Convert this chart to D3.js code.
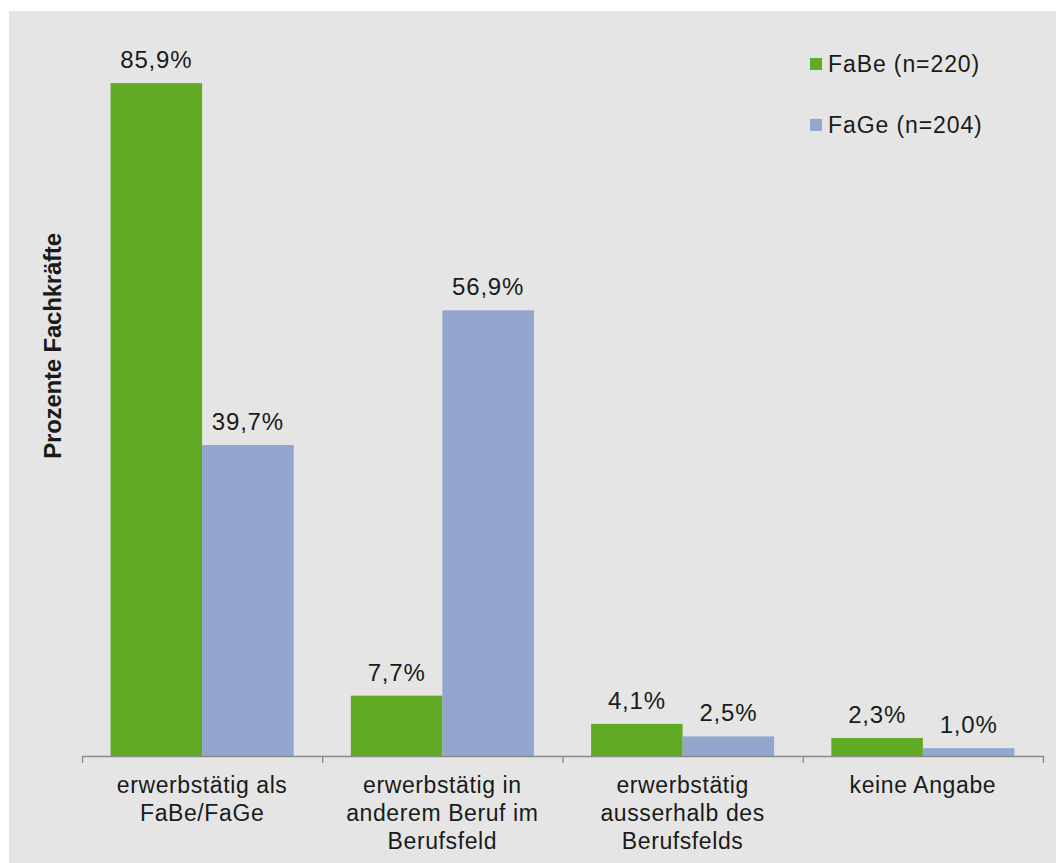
<!DOCTYPE html>
<html>
<head>
<meta charset="utf-8">
<script src="https://cdn.jsdelivr.net/npm/d3@7"></script>
<style>
  html, body { margin: 0; padding: 0; background: #ffffff; }
  svg { display: block; }
  text { font-family: "Liberation Sans", Arial, sans-serif; fill: #1a1a1a; }
</style>
</head>
<body>
<svg id="chart" width="1056" height="863"></svg>
<script>
// Employment situation of trained specialists, share in percent
const categories = [
  "erwerbstätig als FaBe/FaGe",
  "erwerbstätig in anderem Beruf im Berufsfeld",
  "erwerbstätig ausserhalb des Berufsfelds",
  "keine Angabe"
];
const categoryLines = [
  ["erwerbstätig als", "FaBe/FaGe"],
  ["erwerbstätig in", "anderem Beruf im", "Berufsfeld"],
  ["erwerbstätig", "ausserhalb des", "Berufsfelds"],
  ["keine Angabe"]
];
const seriesNames = ["FaBe (n=220)", "FaGe (n=204)"];
const fabeValues = [85.9, 7.7, 4.1, 2.3];
const fageValues = [39.7, 56.9, 2.5, 1.0];
const yTitle = "Prozente Fachkräfte";

const colors = ["#60ab23", "#92a6ce"];
const seriesValues = [fabeValues, fageValues];

const svg = d3.select("#chart");

// chart area background
svg.append("rect")
  .attr("x", 9).attr("y", 11)
  .attr("width", 1056 - 9).attr("height", 863 - 11)
  .attr("fill", "#e5e5e5");

const plotLeft = 82, plotRight = 1043, plotBottom = 756, plotTop = 51;

const x0 = d3.scaleBand()
  .domain(categories)
  .range([plotLeft, plotRight])
  .paddingInner(0.238)
  .paddingOuter(0.119);

const x1 = d3.scaleBand()
  .domain(seriesNames)
  .range([0, x0.bandwidth()]);

const y = d3.scaleLinear()
  .domain([0, 90])
  .range([plotBottom, plotTop]);

const rows = categories.map((c, i) => ({
  category: c,
  values: seriesNames.map((s, j) => ({ series: s, idx: j, value: seriesValues[j][i] }))
}));

const fmt = v => d3.format(".1f")(v).replace(".", ",") + "%";

const groups = svg.append("g").selectAll("g")
  .data(rows)
  .join("g")
  .attr("transform", d => `translate(${x0(d.category)},0)`);

groups.selectAll("rect")
  .data(d => d.values)
  .join("rect")
  .attr("x", d => x1(d.series))
  .attr("y", d => y(d.value))
  .attr("width", x1.bandwidth())
  .attr("height", d => plotBottom - y(d.value))
  .attr("fill", d => colors[d.idx]);

groups.selectAll("text.val")
  .data(d => d.values)
  .join("text")
  .attr("class", "val")
  .attr("x", d => x1(d.series) + x1.bandwidth() / 2)
  .attr("y", d => y(d.value) - 15)
  .attr("text-anchor", "middle")
  .style("font-size", "24px")
  .style("letter-spacing", "0.8px")
  .text(d => fmt(d.value));

// category axis: baseline with tick marks at the category boundaries
const boundaries = d3.scaleLinear().domain([0, categories.length]).range([plotLeft, plotRight]);
const tickAxis = svg.append("g")
  .attr("transform", `translate(0,${plotBottom})`)
  .call(d3.axisBottom(boundaries)
    .ticks(categories.length)
    .tickSize(7)
    .tickSizeOuter(0)
    .tickFormat(""));
tickAxis.select(".domain").attr("stroke", "#8a8a8a").attr("stroke-width", 1.3);
tickAxis.selectAll(".tick line").attr("stroke", "#8a8a8a").attr("stroke-width", 1.3);

// category labels, broken into lines
const labelAxis = svg.append("g")
  .attr("transform", `translate(0,${plotBottom})`)
  .call(d3.axisBottom(x0).tickSize(0).tickFormat(""));
labelAxis.select(".domain").remove();
labelAxis.selectAll(".tick").each(function(d, i) {
  const t = d3.select(this).append("text")
    .attr("text-anchor", "middle")
    .attr("y", 37)
    .style("font-size", "23px")
    .style("letter-spacing", "0.6px");
  categoryLines[i].forEach((line, k) => {
    t.append("tspan").attr("x", 0).attr("dy", k === 0 ? 0 : 28).text(line);
  });
});

// y-axis title
svg.append("text")
  .attr("transform", "translate(61,346) rotate(-90)")
  .attr("text-anchor", "middle")
  .style("font-size", "24px")
  .style("font-weight", "bold")
  .style("letter-spacing", "-0.2px")
  .text(yTitle);

// legend
const legend = svg.append("g").selectAll("g")
  .data(seriesNames)
  .join("g")
  .attr("transform", (d, i) => `translate(810,${58 + i * 61})`);
legend.append("rect")
  .attr("width", 12).attr("height", 12)
  .attr("fill", (d, i) => colors[i]);
legend.append("text")
  .attr("x", 18).attr("y", 14)
  .style("font-size", "23px")
  .style("letter-spacing", "0.9px")
  .text(d => d);
</script>
</body>
</html>
